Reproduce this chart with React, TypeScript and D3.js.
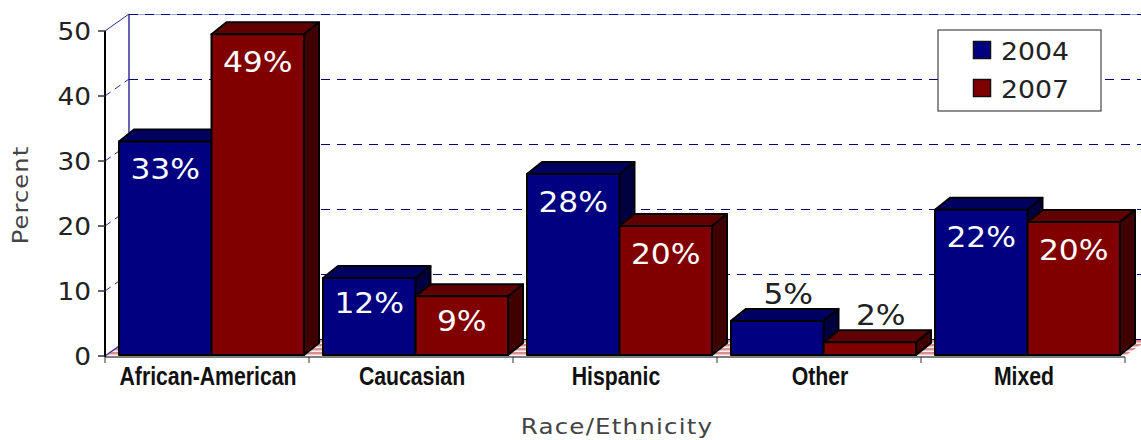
import React from "react";
import * as d3 from "d3";

const categories = ["African-American", "Caucasian", "Hispanic", "Other", "Mixed"];
const seriesNames = ["2004", "2007"];
const values2004 = [33, 12, 28, 5.4, 22.5];
const values2007 = [49.5, 9.2, 20, 2.1, 20.6];
const labels2004 = ["33%", "12%", "28%", "5%", "22%"];
const labels2007 = ["49%", "9%", "20%", "2%", "20%"];
const yTicks = [0, 10, 20, 30, 40, 50];

const W = 1141, H = 440;
const X0 = 105, X1 = 1125, Y0 = 356, Y50 = 31;
const WALL_DX = 24, WALL_DY = 17;
const BAR_DX = 15, BAR_DY = 12;
const WIDE = "'DejaVu Sans', Verdana, sans-serif";
const NARROW = "'Liberation Sans', Arial, sans-serif";
const palette = [
  { front: "#000080", top: "#000060", side: "#000040" },
  { front: "#800000", top: "#600000", side: "#400000" },
];

function Stretched({ x, y, sx, rotate, children, ...rest }: any) {
  const t = `translate(${x},${y})` + (rotate ? ` rotate(${rotate})` : "") + ` scale(${sx},1)`;
  return <text transform={t} {...rest}>{children}</text>;
}

export default function App() {
  const x = d3.scaleBand<string>().domain(categories).range([X0, X1]);
  const inner = d3.scaleBand<string>().domain(seriesNames).range([14, 14 + 185]);
  const y = d3.scaleLinear().domain([0, 50]).range([Y0, Y50]);
  const series = [
    { name: seriesNames[0], values: values2004, labels: labels2004 },
    { name: seriesNames[1], values: values2007, labels: labels2007 },
  ];
  const floor = d3.line()([
    [X0, Y0], [X0 + WALL_DX, Y0 - WALL_DY], [X1 + WALL_DX, Y0 - WALL_DY], [X1, Y0],
  ]) + "Z";

  return (
    <svg width={W} height={H} style={{ position: "absolute", left: 0, top: 0, background: "#fff" }}>
      <defs>
        <pattern id="floorHatch" width="4" height="4" patternUnits="userSpaceOnUse">
          <rect width="4" height="4" fill="#fbeeee" />
          <rect width="4" height="2.4" fill="#d98f8f" />
        </pattern>
      </defs>
      <path d={floor} fill="url(#floorHatch)" />
      <line x1={X0} y1={Y0} x2={X0 + WALL_DX} y2={Y0 - WALL_DY} stroke="#333399" strokeWidth={1.5} />
      <line x1={X0 + WALL_DX} x2={W} y1={Y0 - WALL_DY + 0.5} y2={Y0 - WALL_DY + 0.5} stroke="#000080" strokeWidth={1} />
      <line x1={X0 + WALL_DX} y1={Y0 - WALL_DY} x2={X0 + WALL_DX} y2={Y50 - WALL_DY} stroke="#333399" strokeWidth={1.5} />
      {yTicks.slice(1).map((t) => (
        <g key={t} fill="none">
          {t === 50 && (
            <line x1={X0 + WALL_DX} x2={W} y1={y(t) - WALL_DY + 0.5} y2={y(t) - WALL_DY + 0.5} stroke="#a8a8dc" strokeWidth={1} />
          )}
          <line x1={X0 + WALL_DX} x2={W} y1={y(t) - WALL_DY + 0.5} y2={y(t) - WALL_DY + 0.5}
            stroke="#000080" strokeWidth={1} strokeDasharray="9 7" />
          <line x1={X0} x2={X0 + WALL_DX} y1={y(t)} y2={y(t) - WALL_DY}
            stroke="#2a2aa0" strokeWidth={1} strokeDasharray={t === 50 ? undefined : "7 5"} />
        </g>
      ))}
      {categories.map((c, i) => (
        <g key={c}>
          {series.map((s, k) => {
            const xl = (x(c) as number) + (inner(s.name) as number);
            const xr = xl + inner.bandwidth();
            const yt = y(s.values[i]);
            const yb = Y0 - 1;
            const col = palette[k];
            const st = { stroke: "#000", strokeWidth: 2, strokeLinejoin: "round" as const };
            return (
              <g key={s.name}>
                <path d={d3.line()([[xl, yt], [xl + BAR_DX, yt - BAR_DY], [xr + BAR_DX, yt - BAR_DY], [xr, yt]]) + "Z"} fill={col.top} {...st} />
                <path d={d3.line()([[xr, yt], [xr + BAR_DX, yt - BAR_DY], [xr + BAR_DX, yb - BAR_DY], [xr, yb]]) + "Z"} fill={col.side} {...st} />
                <rect x={xl} y={yt} width={xr - xl} height={yb - yt} fill={col.front} {...st} />
              </g>
            );
          })}
        </g>
      ))}
      {categories.map((c, i) =>
        series.map((s, k) => {
          const xc = (x(c) as number) + (inner(s.name) as number) + inner.bandwidth() / 2;
          const above = s.values[i] < 8;
          const yt = y(s.values[i]);
          const inside = s.values[i] < 15 ? 35 : 37.5;
          return (
            <Stretched key={c + s.name} x={above ? xc + 11 : xc} y={above ? yt - 17 : yt + inside} sx={1.08}
              textAnchor="middle" fontFamily={WIDE} fontSize={29}
              fill={above ? "#222" : "#fff"}>{s.labels[i]}</Stretched>
          );
        })
      )}
      <line x1={X0} x2={X1} y1={Y0 + 1} y2={Y0 + 1} stroke="#555" strokeWidth={1.5} />
      <line x1={X0} x2={X0} y1={Y50} y2={Y0 + 1} stroke="#000" strokeWidth={2} />
      {yTicks.map((t) => (
        <g key={t}>
          <line x1={X0 - 7} x2={X0} y1={y(t)} y2={y(t)} stroke="#333" strokeWidth={1.5} />
          <Stretched x={X0 - 14} y={y(t) + 9} sx={1.1} textAnchor="end" fontFamily={WIDE} fontSize={24} fill="#222">{t}</Stretched>
        </g>
      ))}
      {[...categories.map((c) => x(c) as number), X1].map((p) => (
        <line key={p} x1={p} x2={p} y1={Y0 + 1} y2={Y0 + 7} stroke="#333" strokeWidth={1} />
      ))}
      {categories.map((c) => (
        <Stretched key={c} x={(x(c) as number) + x.bandwidth() / 2 + 1} y={385} sx={0.85} textAnchor="middle"
          fontFamily={NARROW} fontWeight="bold" fontSize={25} fill="#111">{c}</Stretched>
      ))}
      <Stretched x={617} y={434} sx={1.17} textAnchor="middle" fontFamily={WIDE} fontSize={21} letterSpacing={1} fill="#444">Race/Ethnicity</Stretched>
      <Stretched x={28} y={195} sx={1.1} rotate={-90} textAnchor="middle" fontFamily={WIDE} fontSize={22} letterSpacing={1} fill="#444">Percent</Stretched>
      <rect x={938} y={30} width={163} height={81} fill="#fff" stroke="#444" strokeWidth={1.2} />
      {series.map((s, k) => (
        <g key={s.name}>
          <rect x={973.5} y={41.5 + k * 38} width={17} height={17} fill={palette[k].front} stroke="#111" strokeWidth={1.5} />
          <Stretched x={1001} y={60 + k * 38} sx={1.07} fontFamily={WIDE} fontSize={25} fill="#222">{s.name}</Stretched>
        </g>
      ))}
    </svg>
  );
}
